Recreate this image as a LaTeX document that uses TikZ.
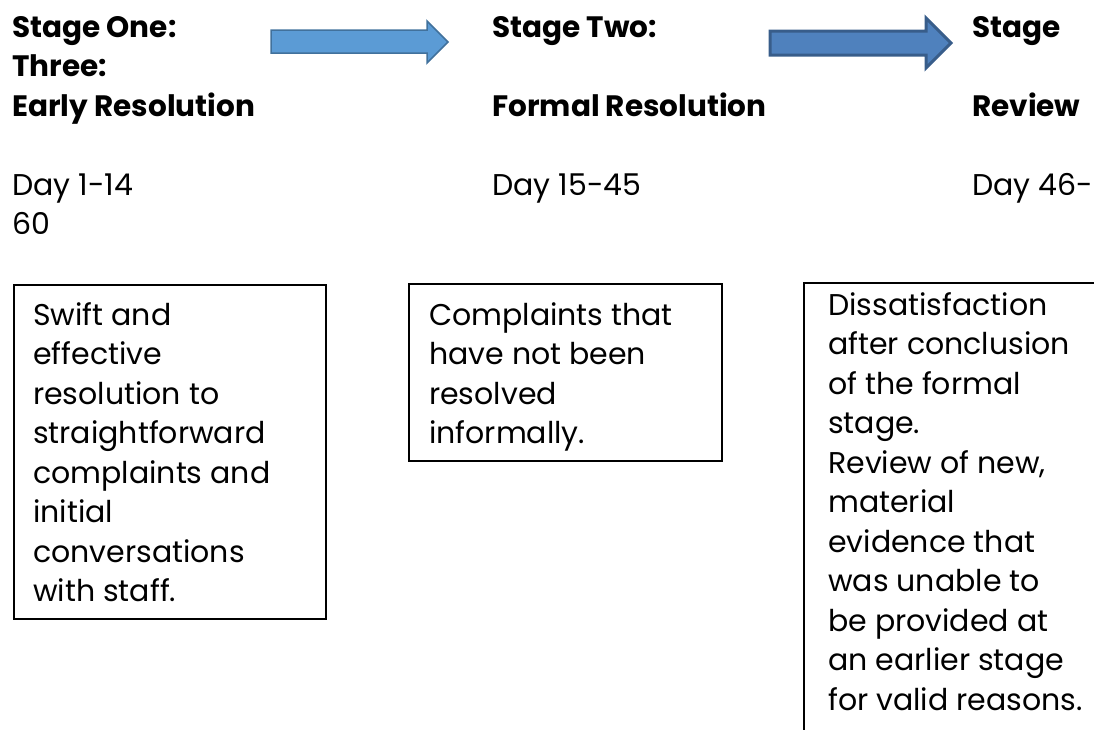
\documentclass[tikz,border=0pt]{standalone}
\usepackage{fontspec}
\setmainfont{Poppins}
\usetikzlibrary{positioning}

\definecolor{arrowfill}{HTML}{5B9BD5}
\definecolor{arrowline}{HTML}{41719C}
\definecolor{arrowfilldk}{HTML}{4F81BD}
\definecolor{arrowlinedk}{HTML}{385D8A}

\tikzset{
  head/.style={font=\bfseries\fontsize{29.5}{39.5}\selectfont, align=left, inner sep=0pt, anchor=base west},
  days/.style={font=\fontsize{30}{39.5}\selectfont, align=left, inner sep=0pt, anchor=base west},
  stagebox/.style={draw, line width=1.5pt, anchor=north west, inner sep=0pt},
  boxtext/.style={font=\fontsize{30}{39.5}\selectfont, align=left, inner sep=0pt, anchor=base west},
  blockarrow/.style={fill=arrowfill, draw=arrowline, line width=1.5pt},
  blockarrowdk/.style={fill=arrowfilldk, draw=arrowlinedk, line width=3pt}
}

\begin{document}
\begin{tikzpicture}[x=1pt,y=-1pt]
\useasboundingbox (0,0) rectangle (1094,729);

% headings (anchored on their last line)
\node[head] (one) at (12,116) {Stage One:\\Three:\\Early Resolution};
\node[head] (two) at (492,116) {Stage Two:\\[39.5pt]Formal Resolution};
\node[head] (three) at (972,116) {Stage\\[39.5pt]Review};

\node[days] (day1) at (12,234.5) {Day 1-14\\60};
\node[days] (day2) at (492,195) {Day 15-45};
\node[days] (day3) at (972,195) {Day 46-};

% arrows
\draw[blockarrow] (271,30) -- (427,30) -- (427,21) -- (448,42) -- (427,63) -- (427,53) -- (271,53) -- cycle;
\draw[blockarrowdk] (770,31) -- (926,31) -- (926,18) -- (951,43) -- (926,68) -- (926,55) -- (770,55) -- cycle;

% boxes
\node[stagebox, minimum width=312pt, minimum height=334pt] (box1) at (13,284) {};
\node[stagebox, minimum width=313pt, minimum height=177pt] (box2) at (408,283) {};
\node[stagebox, minimum width=320pt, minimum height=480pt] (box3) at (803,282) {};

\node[boxtext] (txt1) at ([xshift=20pt,yshift=-317.5pt]box1.north west)
  {Swift and\\effective\\resolution to\\straightforward\\complaints and\\initial\\conversations\\with staff.};
\node[boxtext] (txt2) at ([xshift=21pt,yshift=-160.5pt]box2.north west)
  {Complaints that\\have not been\\resolved\\informally.};
\node[boxtext] (txt3) at ([xshift=25pt,yshift=-428pt]box3.north west)
  {Dissatisfaction\\after conclusion\\of the formal\\stage.\\Review of new,\\material\\evidence that\\was unable to\\be provided at\\an earlier stage\\for valid reasons.};

\end{tikzpicture}
\end{document}
